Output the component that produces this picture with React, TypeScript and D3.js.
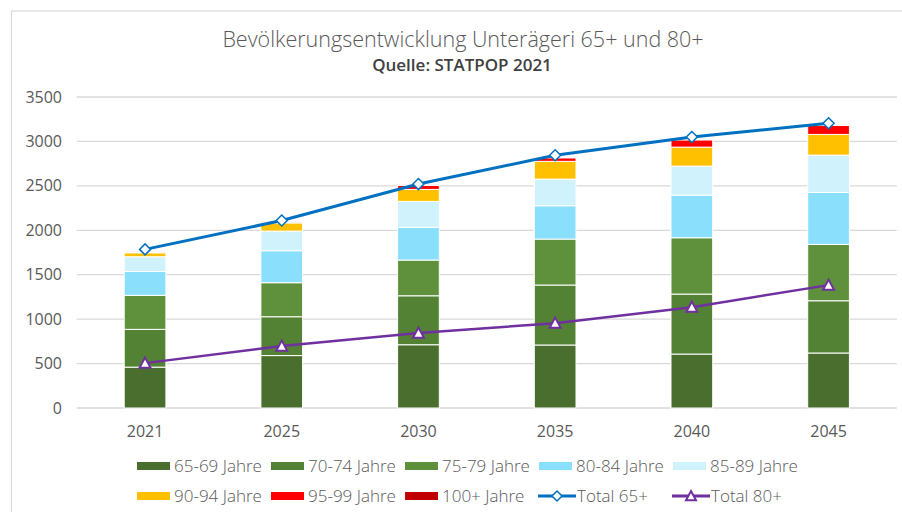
import React from "react";
import * as d3 from "d3";

const years = ["2021", "2025", "2030", "2035", "2040", "2045"];
const age65_69 = [460, 590, 712, 709, 607, 619];
const age70_74 = [425, 437, 551, 675, 675, 588];
const age75_79 = [383, 383, 402, 517, 634, 634];
const age80_84 = [268, 360, 368, 375, 480, 585];
const age85_89 = [166, 221, 292, 300, 326, 420];
const age90_94 = [45, 92, 135, 200, 214, 233];
const age95_99 = [10, 8, 45, 40, 82, 100];
const age100 = [2, 3, 6, 8, 10, 12];
const total65 = [1785, 2110, 2520, 2845, 3050, 3205];
const total80 = [505, 697, 843, 955, 1135, 1383];
const yTicks = [0, 500, 1000, 1500, 2000, 2500, 3000, 3500];

const seriesNames = [
  "65-69 Jahre",
  "70-74 Jahre",
  "75-79 Jahre",
  "80-84 Jahre",
  "85-89 Jahre",
  "90-94 Jahre",
  "95-99 Jahre",
  "100+ Jahre",
];
const seriesColors = [
  "#4a6e2d",
  "#548235",
  "#5f903c",
  "#89dffc",
  "#d0f2fd",
  "#ffc000",
  "#ff0000",
  "#c00000",
];
const seriesValues = [age65_69, age70_74, age75_79, age80_84, age85_89, age90_94, age95_99, age100];

const FONT = "'Open Sans', sans-serif";
const TXT = "#595959";

export default function App() {
  const left = 76.7;
  const right = 896.9;
  const top = 97;
  const bottom = 408;

  const x = d3.scaleBand<string>().domain(years).range([left, right]).paddingInner(0).paddingOuter(0);
  const y = d3.scaleLinear().domain([0, 3500]).range([bottom, top]);
  const barW = x.bandwidth() * 0.305;
  const cx = (yr: string) => (x(yr) as number) + x.bandwidth() / 2;

  const table = years.map((yr, i) => {
    const row: any = { year: yr };
    seriesNames.forEach((n, k) => (row[n] = seriesValues[k][i]));
    return row;
  });
  const stack = d3.stack<any>().keys(seriesNames)(table);

  const line = d3
    .line<number>()
    .x((_, i) => cx(years[i]))
    .y((d) => y(d));

  const diamond = (px: number, py: number, r: number) =>
    `M${px},${py - r}L${px + r},${py}L${px},${py + r}L${px - r},${py}Z`;
  const triangle = (px: number, py: number, r: number) =>
    `M${px},${py - r}L${px + r},${py + r * 0.85}L${px - r},${py + r * 0.85}Z`;

  const legendItems: { name: string; kind: string; color: string }[] = [
    ...seriesNames.map((n, k) => ({ name: n, kind: "bar", color: seriesColors[k] })),
    { name: "Total 65+", kind: "diamond", color: "#0070c0" },
    { name: "Total 80+", kind: "triangle", color: "#7030a0" },
  ];

  return (
    <svg
      width={902}
      height={512}
      style={{ position: "absolute", left: 0, top: 0, background: "#fff" }}
      fontFamily={FONT}
    >
      <rect x={0} y={0} width={902} height={512} fill="#fff" />
      <rect x={11.5} y={11} width={900} height={510} fill="none" stroke="#d9d9d9" strokeWidth={1.2} />

      <text x={463} y={47} textAnchor="middle" fontSize={21.5} fontWeight={300} fill={TXT}>
        Bevölkerungsentwicklung Unterägeri 65+ und 80+
      </text>
      <text x={462} y={71} textAnchor="middle" fontSize={17} fontWeight={600} fill="#404040">
        Quelle: STATPOP 2021
      </text>

      {yTicks.map((t) => (
        <g key={t}>
          <line x1={left} x2={right} y1={y(t)} y2={y(t)} stroke="#d9d9d9" strokeWidth={1.3} />
          <text x={62} y={y(t)} dy="0.35em" textAnchor="end" fontSize={16} fill={TXT}>
            {t}
          </text>
        </g>
      ))}

      {stack.map((s, k) => (
        <g key={k} fill={seriesColors[k]}>
          {s.map((d, i) => (
            <rect
              key={i}
              x={cx(years[i]) - barW / 2}
              y={y(d[1])}
              width={barW}
              height={Math.max(0, y(d[0]) - y(d[1]))}
              stroke="#fff"
              strokeWidth={1}
            />
          ))}
        </g>
      ))}

      {years.map((yr) => (
        <text key={yr} x={cx(yr)} y={437} textAnchor="middle" fontSize={16} fill={TXT}>
          {yr}
        </text>
      ))}

      <path d={line(total65) || ""} fill="none" stroke="#0070c0" strokeWidth={3} />
      {total65.map((v, i) => (
        <path key={i} d={diamond(cx(years[i]), y(v), 5.5)} fill="#fff" stroke="#0070c0" strokeWidth={1.5} />
      ))}
      <path d={line(total80) || ""} fill="none" stroke="#7030a0" strokeWidth={2.5} />
      {total80.map((v, i) => (
        <path key={i} d={triangle(cx(years[i]), y(v), 5.5)} fill="#fff" stroke="#7030a0" strokeWidth={2} />
      ))}

      {legendItems.map((it, idx) => {
        const row = Math.floor(idx / 5);
        const col = idx % 5;
        const lx = 137 + 134 * col;
        const ly = 466 + 30 * row;
        return (
          <g key={it.name}>
            {it.kind === "bar" ? (
              <rect x={lx} y={ly - 4} width={33} height={8} fill={it.color} />
            ) : (
              <g>
                <line x1={lx - 1} x2={lx + 37} y1={ly} y2={ly} stroke={it.color} strokeWidth={3} />
                {it.kind === "diamond" ? (
                  <path d={diamond(lx + 18, ly, 5)} fill="#fff" stroke={it.color} strokeWidth={1.5} />
                ) : (
                  <path d={triangle(lx + 18, ly, 5)} fill="#fff" stroke={it.color} strokeWidth={2} />
                )}
              </g>
            )}
            <text x={it.kind === "bar" ? lx + 37 : lx + 38} y={ly} dy="0.36em" fontSize={17} fontWeight={300} fill={TXT}>
              {it.name}
            </text>
          </g>
        );
      })}
    </svg>
  );
}
